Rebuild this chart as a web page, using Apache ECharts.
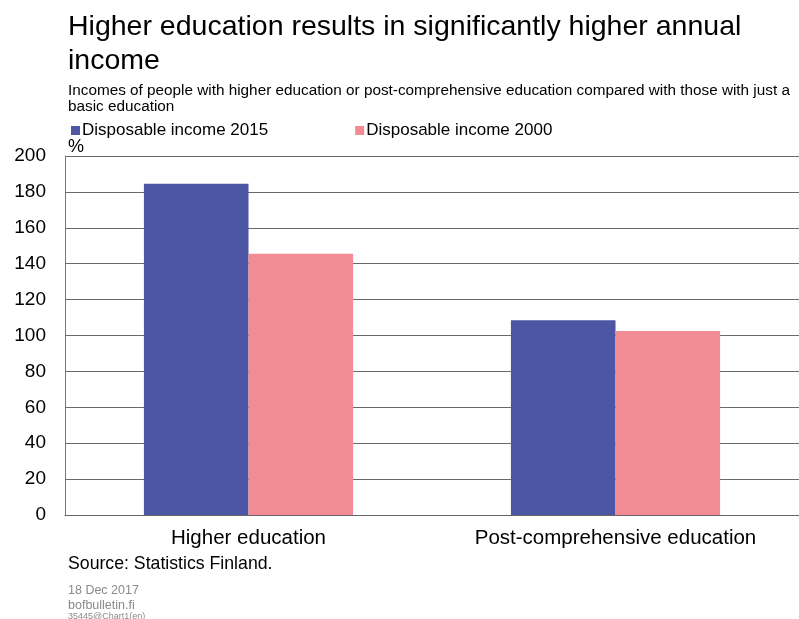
<!DOCTYPE html>
<html>
<head>
<meta charset="utf-8">
<script src="https://cdn.jsdelivr.net/npm/echarts@6/dist/echarts.min.js"></script>
<style>
  html, body { margin: 0; padding: 0; background: #fff; }
  #chart { width: 799px; height: 619px; }
</style>
</head>
<body>
<div id="chart"></div>
<script>
// -- Data --
const categories = ['Higher education', 'Post-comprehensive education'];
const income2015 = [184.5, 108.5];
const income2000 = [145.5, 102.5];
const yTicks = [0, 20, 40, 60, 80, 100, 120, 140, 160, 180, 200];

const FONT = '"Liberation Sans", Arial, sans-serif';
const BLUE = '#4d55a5';
const PINK = '#f28c94';

const chart = echarts.init(document.getElementById('chart'), null, { renderer: 'canvas' });

chart.setOption({
  animation: false,
  textStyle: { fontFamily: FONT },
  title: [
    {
      text: 'Higher education results in significantly higher annual\nincome',
      left: 63, top: 5,
      textStyle: { fontSize: 28.5, fontWeight: 'normal', color: '#000', lineHeight: 34, fontFamily: FONT }
    },
    {
      text: 'Incomes of people with higher education or post-comprehensive education compared with those with just a\nbasic education',
      left: 63, top: 78,
      textStyle: { fontSize: 15.3, fontWeight: 'normal', color: '#000', lineHeight: 16, fontFamily: FONT }
    },
    {
      text: '%', left: 63, top: 133,
      textStyle: { fontSize: 18, fontWeight: 'normal', color: '#000', fontFamily: FONT }
    },
    {
      text: 'Source: Statistics Finland.', left: 63, top: 550,
      textStyle: { fontSize: 17.7, fontWeight: 'normal', color: '#000', fontFamily: FONT }
    },
    {
      text: '18 Dec 2017\nbofbulletin.fi', left: 63, top: 578,
      textStyle: { fontSize: 12.5, fontWeight: 'normal', color: '#8a8a8a', lineHeight: 15, fontFamily: FONT }
    },
    {
      text: '35445@Chart1(en)', left: 63, top: 607,
      textStyle: { fontSize: 9, fontWeight: 'normal', color: '#8a8a8a', fontFamily: FONT }
    }
  ],
  legend: {
    left: 66, top: 117,
    itemWidth: 9, itemHeight: 9, itemGap: 87,
    icon: 'rect',
    textStyle: { fontSize: 17, color: '#000', fontFamily: FONT, padding: [0, 0, 0, -3] },
    data: ['Disposable income 2015', 'Disposable income 2000']
  },
  grid: { left: 65, right: -9, top: 156, bottom: 104 },
  xAxis: {
    type: 'category',
    data: categories,
    axisTick: { show: false },
    axisLine: { lineStyle: { color: '#666', width: 1 } },
    axisLabel: { fontSize: 20.5, color: '#000', margin: 13, fontFamily: FONT }
  },
  yAxis: {
    type: 'value',
    min: 0, max: 200, interval: 20,
    axisLine: { show: true, lineStyle: { color: '#777', width: 1 } },
    axisTick: { show: false },
    axisLabel: {
      fontSize: 19, color: '#000', margin: 19, fontFamily: FONT,
      formatter: v => yTicks.includes(v) ? String(v) : ''
    },
    splitLine: { lineStyle: { color: '#6a6a6a', width: 1 } }
  },
  series: [
    {
      name: 'Disposable income 2015', type: 'bar', data: income2015,
      itemStyle: { color: BLUE }, barGap: '0%', barCategoryGap: '43%'
    },
    {
      name: 'Disposable income 2000', type: 'bar', data: income2000,
      itemStyle: { color: PINK }
    }
  ]
});
</script>
</body>
</html>
